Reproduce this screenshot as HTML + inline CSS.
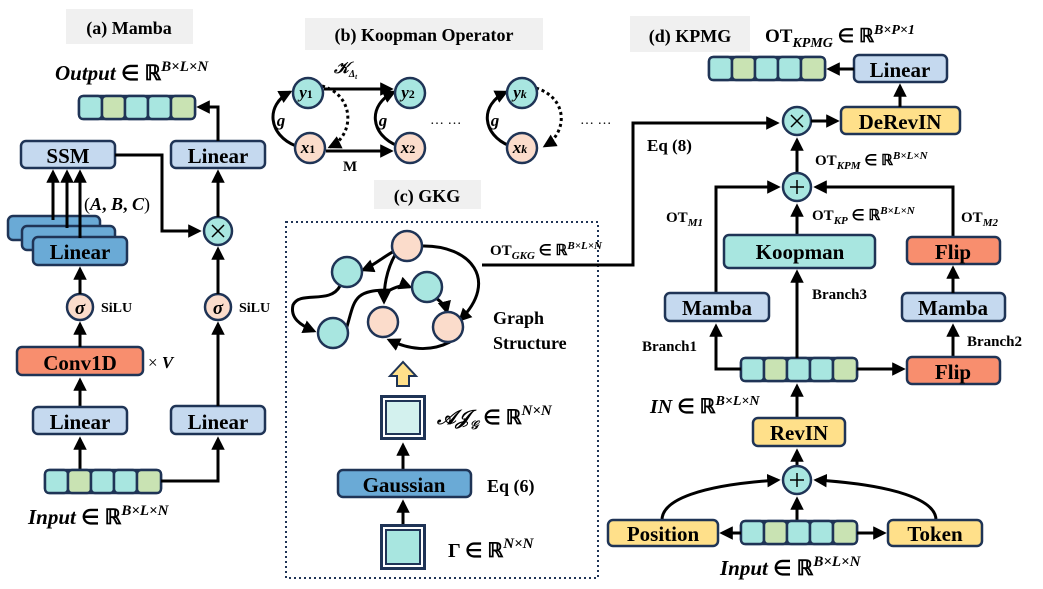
<!DOCTYPE html>
<html><head><meta charset="utf-8"><style>
body{margin:0;background:#fff;}
svg{display:block;font-family:"Liberation Serif",serif;font-weight:bold;}
.b{stroke:#1f3456;stroke-width:2.5;}
.l{stroke:#000;stroke-width:3;fill:none;}
.i{font-style:italic;}
</style></head><body>
<svg width="1043" height="589" viewBox="0 0 1043 589" xmlns="http://www.w3.org/2000/svg">
<defs>
<marker id="a" viewBox="0 0 10 10" refX="8" refY="5" markerWidth="4.5" markerHeight="4.5" orient="auto-start-reverse"><path d="M0,0 L10,5 L0,10 z" fill="#000"/></marker>
<g id="arr">
<rect x="0" y="0" width="116" height="23" rx="5" fill="#a8e6e0" class="b"/>
<rect x="0" y="0" width="23" height="23" rx="4" fill="#a8e6e0" class="b"/>
<rect x="23" y="0" width="23" height="23" rx="4" fill="#c9e3b3" class="b"/>
<rect x="46" y="0" width="23" height="23" rx="4" fill="#a8e6e0" class="b"/>
<rect x="69" y="0" width="23" height="23" rx="4" fill="#a8e6e0" class="b"/>
<rect x="92" y="0" width="24" height="23" rx="4" fill="#c9e3b3" class="b"/>
</g>
</defs>

<!-- (a) Mamba -->
<rect x="66" y="9" width="127" height="35" fill="#f0f0f0"/>
<text x="129" y="34" font-size="18" text-anchor="middle">(a) Mamba</text>
<text x="55" y="80" font-size="21"><tspan class="i">Output</tspan> ∈ ℝ<tspan class="i" font-size="15" dy="-9">B×L×N</tspan></text>
<use href="#arr" x="79" y="96"/>
<rect x="21" y="141" width="94" height="27" rx="5" fill="#c5d9ef" class="b"/>
<text x="68" y="163" font-size="21" text-anchor="middle">SSM</text>
<rect x="171" y="141" width="94" height="27" rx="5" fill="#c5d9ef" class="b"/>
<text x="218" y="163" font-size="21" text-anchor="middle">Linear</text>
<rect x="8" y="216" width="92" height="24" rx="5" fill="#6aaad6" class="b"/>
<rect x="22" y="226" width="93" height="24" rx="5" fill="#6aaad6" class="b"/>
<rect x="33" y="237" width="94" height="28" rx="5" fill="#6aaad6" class="b"/>
<text x="80" y="259" font-size="21" text-anchor="middle">Linear</text>
<path class="l" d="M53 220 V172" marker-end="url(#a)"/>
<path class="l" d="M67 228 V172" marker-end="url(#a)"/>
<path class="l" d="M80 238 V172" marker-end="url(#a)"/>
<text x="84" y="210" font-size="18"><tspan font-weight="normal">(</tspan><tspan class="i">A</tspan>, <tspan class="i">B</tspan>, <tspan class="i">C</tspan><tspan font-weight="normal">)</tspan></text>
<path class="l" d="M115 155 H162 V231 H199" marker-end="url(#a)"/>
<circle cx="218" cy="231" r="14" fill="#a8e6e0" class="b" stroke-width="3"/>
<path d="M212 225 L224 237 M224 225 L212 237" stroke="#000" stroke-width="1.5"/>
<path class="l" d="M218 217 V172" marker-end="url(#a)"/>
<path class="l" d="M218 141 V107 H199" marker-end="url(#a)"/>
<circle cx="80" cy="307" r="13" fill="#fbdccb" class="b" stroke-width="3"/>
<text x="80" y="314" font-size="19" text-anchor="middle" class="i">σ</text>
<circle cx="218" cy="307" r="13" fill="#fbdccb" class="b" stroke-width="3"/>
<text x="218" y="314" font-size="19" text-anchor="middle" class="i">σ</text>
<text x="101" y="312" font-size="14">SiLU</text>
<text x="239" y="312" font-size="14">SiLU</text>
<path class="l" d="M80 294 V269" marker-end="url(#a)"/>
<path class="l" d="M218 294 V249" marker-end="url(#a)"/>
<rect x="17" y="347" width="126" height="28" rx="5" fill="#f88e6e" class="b"/>
<text x="80" y="370" font-size="21" text-anchor="middle">Conv1D</text>
<text x="148" y="368" font-size="17"><tspan font-weight="normal">×</tspan> <tspan class="i">V</tspan></text>
<path class="l" d="M80 347 V324" marker-end="url(#a)"/>
<path class="l" d="M80 407 V380" marker-end="url(#a)"/>
<rect x="33" y="407" width="94" height="27" rx="5" fill="#c5d9ef" class="b"/>
<text x="80" y="429" font-size="21" text-anchor="middle">Linear</text>
<rect x="171" y="406" width="94" height="28" rx="5" fill="#c5d9ef" class="b"/>
<text x="218" y="429" font-size="21" text-anchor="middle">Linear</text>
<path class="l" d="M80 470 V439" marker-end="url(#a)"/>
<path class="l" d="M218 406 V324" marker-end="url(#a)"/>
<use href="#arr" x="45" y="470"/>
<path class="l" d="M161 481 H218 V439" marker-end="url(#a)"/>
<text x="28" y="524" font-size="21"><tspan class="i">Input</tspan> ∈ ℝ<tspan class="i" font-size="15" dy="-9">B×L×N</tspan></text>

<!-- (b) Koopman -->
<rect x="305" y="18" width="238" height="32" fill="#f0f0f0"/>
<text x="424" y="41" font-size="18" text-anchor="middle">(b) Koopman Operator</text>
<path class="l" d="M324 89 H391" marker-end="url(#a)"/>
<path class="l" d="M326 151 H391" marker-end="url(#a)"/>
<path class="l" d="M296 146 C268 135 265 105 290 92" marker-end="url(#a)"/>
<path class="l" d="M398 146 C370 135 367 105 394 92" marker-end="url(#a)"/>
<path class="l" d="M510 146 C482 135 479 105 506 92" marker-end="url(#a)"/>
<path class="l" d="M322 86 C355 95 355 135 330 147" stroke-dasharray="3 3" marker-end="url(#a)"/>
<path class="l" d="M536 88 C568 98 568 132 545 146" stroke-dasharray="3 3" marker-end="url(#a)"/>
<circle cx="308" cy="93" r="15" fill="#a8e6e0" class="b" stroke-width="3"/>
<circle cx="410" cy="93" r="15" fill="#a8e6e0" class="b" stroke-width="3"/>
<circle cx="522" cy="93" r="15" fill="#a8e6e0" class="b" stroke-width="3"/>
<circle cx="310" cy="148" r="15" fill="#fbdccb" class="b" stroke-width="3"/>
<circle cx="410" cy="148" r="15" fill="#fbdccb" class="b" stroke-width="3"/>
<circle cx="522" cy="148" r="15" fill="#fbdccb" class="b" stroke-width="3"/>
<g font-size="17" class="i" text-anchor="middle">
<text x="306" y="98">y<tspan font-size="12" font-style="normal">1</tspan></text>
<text x="408" y="98">y<tspan font-size="12" font-style="normal">2</tspan></text>
<text x="520" y="98">y<tspan font-size="12">k</tspan></text>
<text x="308" y="153">x<tspan font-size="12" font-style="normal">1</tspan></text>
<text x="408" y="153">x<tspan font-size="12" font-style="normal">2</tspan></text>
<text x="520" y="153">x<tspan font-size="12">k</tspan></text>
<text x="281" y="126">g</text><text x="383" y="126">g</text><text x="495" y="126">g</text>
</g>
<text x="334" y="73" font-size="16" class="i">𝒦<tspan font-size="10" dy="4">Δ</tspan><tspan font-size="7" dy="2">t</tspan></text>
<text x="343" y="171" font-size="15">M</text>
<text x="430" y="124" font-size="14" font-weight="normal">… …</text>
<text x="580" y="124" font-size="14" font-weight="normal">… …</text>

<!-- (c) GKG -->
<rect x="374" y="180" width="107" height="29" fill="#f0f0f0"/>
<text x="427" y="202" font-size="18" text-anchor="middle">(c) GKG</text>
<rect x="286" y="222" width="312" height="356" fill="none" stroke="#1f3456" stroke-width="2" stroke-dasharray="2 3"/>
<path class="l" d="M400 248 C385 255 375 265 363 270" marker-end="url(#a)"/>
<path class="l" d="M398 250 C385 270 384 290 384 302" marker-end="url(#a)"/>
<path class="l" d="M422 246 C470 245 500 280 460 320" marker-end="url(#a)"/>
<path class="l" d="M340 286 C330 305 300 290 293 305 C290 318 300 325 314 331" marker-end="url(#a)"/>
<path class="l" d="M346 330 C355 300 352 290 390 290 C400 285 405 285 410 287" marker-end="url(#a)"/>
<path class="l" d="M436 298 C444 304 446 308 447 312" marker-end="url(#a)"/>
<path class="l" d="M450 342 C430 352 410 350 389 340" marker-end="url(#a)"/>
<circle cx="407" cy="246" r="15" fill="#fbdccb" class="b" stroke-width="3"/>
<circle cx="347" cy="272" r="15" fill="#a8e6e0" class="b" stroke-width="3"/>
<circle cx="427" cy="287" r="15" fill="#a8e6e0" class="b" stroke-width="3"/>
<circle cx="333" cy="333" r="15" fill="#a8e6e0" class="b" stroke-width="3"/>
<circle cx="383" cy="322" r="15" fill="#fbdccb" class="b" stroke-width="3"/>
<circle cx="448" cy="327" r="15" fill="#fbdccb" class="b" stroke-width="3"/>
<text x="493" y="324" font-size="18">Graph</text>
<text x="493" y="349" font-size="18">Structure</text>
<path d="M397 386 V376 H390 L403 362 L416 376 H409 V386 Z" fill="#ffe08a" stroke="#1f3456" stroke-width="2"/>
<rect x="380" y="395" width="46" height="45" fill="#1f3456"/>
<rect x="383" y="398" width="40" height="39" fill="#fff"/>
<rect x="386" y="401" width="34" height="33" fill="#d3f1ee" stroke="#1f3456" stroke-width="2"/>
<text x="437" y="424" font-size="20"><tspan class="i">𝒜𝒥</tspan><tspan class="i" font-size="12" dy="5">𝒢</tspan><tspan dy="-5"> ∈ ℝ</tspan><tspan class="i" font-size="15" dy="-9">N×N</tspan></text>
<path class="l" d="M403 470 V445" marker-end="url(#a)"/>
<rect x="338" y="470" width="133" height="27" rx="5" fill="#6aaad6" class="b"/>
<text x="404" y="492" font-size="21" text-anchor="middle">Gaussian</text>
<text x="487" y="492" font-size="18">Eq (6)</text>
<path class="l" d="M403 524 V502" marker-end="url(#a)"/>
<rect x="380" y="524" width="46" height="46" fill="#1f3456"/>
<rect x="383" y="527" width="40" height="40" fill="#fff"/>
<rect x="386" y="530" width="34" height="34" fill="#a8e6e0" stroke="#1f3456" stroke-width="2"/>
<text x="448" y="557" font-size="20">Γ ∈ ℝ<tspan class="i" font-size="15" dy="-9">N×N</tspan></text>

<!-- GKG to KPMG -->
<path class="l" d="M482 265 H633 V123 H777" marker-end="url(#a)"/>
<text x="490" y="255" font-size="15">OT<tspan class="i" font-size="11" dy="4">GKG</tspan><tspan dy="-4"> ∈ ℝ</tspan><tspan class="i" font-size="11" dy="-6">B×L×N</tspan></text>

<!-- (d) KPMG -->
<rect x="630" y="16" width="120" height="36" fill="#f0f0f0"/>
<text x="690" y="42" font-size="18" text-anchor="middle">(d) KPMG</text>
<text x="765" y="42" font-size="19">OT<tspan class="i" font-size="14" dy="5">KPMG</tspan><tspan dy="-5"> ∈ ℝ</tspan><tspan class="i" font-size="14" dy="-8">B×P×1</tspan></text>
<use href="#arr" x="709" y="57"/>
<rect x="854" y="55" width="93" height="27" rx="5" fill="#c5d9ef" class="b"/>
<text x="900" y="77" font-size="21" text-anchor="middle">Linear</text>
<path class="l" d="M854 69 H829" marker-end="url(#a)"/>
<rect x="841" y="107" width="119" height="27" rx="5" fill="#ffe08a" class="b"/>
<text x="900" y="129" font-size="21" text-anchor="middle">DeRevIN</text>
<path class="l" d="M900 107 V86" marker-end="url(#a)"/>
<circle cx="797" cy="121" r="14" fill="#a8e6e0" class="b" stroke-width="3"/>
<path d="M791 115 L803 127 M803 115 L791 127" stroke="#000" stroke-width="1.5"/>
<path class="l" d="M811 121 H837" marker-end="url(#a)"/>
<text x="647" y="151" font-size="17">Eq (8)</text>
<path class="l" d="M797 173 V140" marker-end="url(#a)"/>
<text x="815" y="165" font-size="15">OT<tspan class="i" font-size="11" dy="4">KPM</tspan><tspan dy="-4"> ∈ ℝ</tspan><tspan class="i" font-size="11" dy="-6">B×L×N</tspan></text>
<circle cx="797" cy="187" r="14" fill="#a8e6e0" class="b" stroke-width="3"/>
<path d="M797 180 V194 M790 187 H804" stroke="#000" stroke-width="1.5"/>
<path class="l" d="M716 293 V187 H778" marker-end="url(#a)"/>
<path class="l" d="M953 237 V187 H816" marker-end="url(#a)"/>
<path class="l" d="M797 235 V206" marker-end="url(#a)"/>
<text x="666" y="222" font-size="15">OT<tspan class="i" font-size="11" dy="4">M1</tspan></text>
<text x="812" y="220" font-size="15">OT<tspan class="i" font-size="11" dy="4">KP</tspan><tspan dy="-4"> ∈ ℝ</tspan><tspan class="i" font-size="11" dy="-6">B×L×N</tspan></text>
<text x="961" y="222" font-size="15">OT<tspan class="i" font-size="11" dy="4">M2</tspan></text>
<rect x="724" y="235" width="151" height="33" rx="5" fill="#a8e6e0" class="b"/>
<text x="800" y="259" font-size="21" text-anchor="middle">Koopman</text>
<rect x="907" y="237" width="93" height="27" rx="5" fill="#f88e6e" class="b"/>
<text x="953" y="259" font-size="21" text-anchor="middle">Flip</text>
<rect x="665" y="293" width="104" height="28" rx="5" fill="#c5d9ef" class="b"/>
<text x="717" y="315" font-size="21" text-anchor="middle">Mamba</text>
<rect x="902" y="293" width="103" height="28" rx="5" fill="#c5d9ef" class="b"/>
<text x="953" y="315" font-size="21" text-anchor="middle">Mamba</text>
<path class="l" d="M953 293 V268" marker-end="url(#a)"/>
<text x="812" y="299" font-size="15">Branch3</text>
<text x="642" y="351" font-size="15">Branch1</text>
<text x="967" y="346" font-size="15">Branch2</text>
<use href="#arr" x="741" y="358"/>
<path class="l" d="M797 358 V272" marker-end="url(#a)"/>
<path class="l" d="M741 369 H716 V326" marker-end="url(#a)"/>
<path class="l" d="M857 369 H903" marker-end="url(#a)"/>
<path class="l" d="M953 357 V326" marker-end="url(#a)"/>
<rect x="907" y="357" width="93" height="27" rx="5" fill="#f88e6e" class="b"/>
<text x="953" y="379" font-size="21" text-anchor="middle">Flip</text>
<text x="650" y="413" font-size="20"><tspan class="i">IN</tspan> ∈ ℝ<tspan class="i" font-size="14" dy="-8">B×L×N</tspan></text>
<path class="l" d="M797 418 V386" marker-end="url(#a)"/>
<rect x="753" y="418" width="92" height="28" rx="5" fill="#ffe08a" class="b"/>
<text x="799" y="440" font-size="21" text-anchor="middle">RevIN</text>
<path class="l" d="M797 466 V451" marker-end="url(#a)"/>
<circle cx="797" cy="480" r="14" fill="#a8e6e0" class="b" stroke-width="3"/>
<path d="M797 473 V487 M790 480 H804" stroke="#000" stroke-width="1.5"/>
<path class="l" d="M797 521 V499" marker-end="url(#a)"/>
<path class="l" d="M662 520 C662 500 700 485 778 480" marker-end="url(#a)"/>
<path class="l" d="M936 520 C936 500 895 485 816 480" marker-end="url(#a)"/>
<use href="#arr" x="741" y="521"/>
<rect x="608" y="520" width="110" height="26" rx="5" fill="#ffe08a" class="b"/>
<text x="663" y="541" font-size="21" text-anchor="middle">Position</text>
<rect x="888" y="520" width="94" height="26" rx="5" fill="#ffe08a" class="b"/>
<text x="935" y="541" font-size="21" text-anchor="middle">Token</text>
<path class="l" d="M741 533 H722" marker-end="url(#a)"/>
<path class="l" d="M857 533 H884" marker-end="url(#a)"/>
<text x="720" y="575" font-size="21"><tspan class="i">Input</tspan> ∈ ℝ<tspan class="i" font-size="15" dy="-9">B×L×N</tspan></text>
</svg>
</body></html>
